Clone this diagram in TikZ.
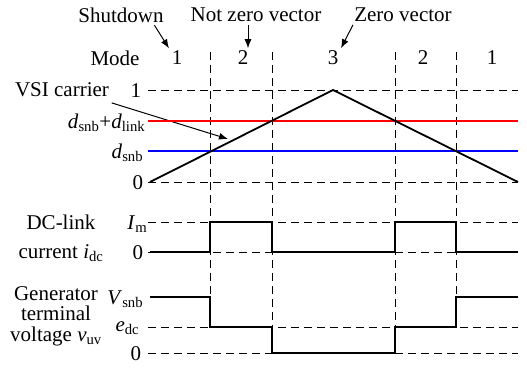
\documentclass[tikz,border=0pt]{standalone}
\usepackage{fontspec}
\setmainfont{Liberation Serif}
\usetikzlibrary{arrows.meta}
\definecolor{cred}{HTML}{FF0000}
\definecolor{cblue}{HTML}{0000FF}
\newcommand{\sym}[2]{\textit{#1}\textsubscript{#2}}
\tikzset{
  every picture/.style={font=\fontsize{21}{22}\selectfont, line width=1.6pt},
  wave/.style={draw=black, line width=1.8pt},
  grid/.style={draw=black, line width=1pt, dash pattern=on 8pt off 5pt},
  lbl/.style={inner sep=2pt},
  lvl/.style={anchor=base east, inner sep=1pt},
  pointer/.style={-{Latex[length=9pt, width=7pt]}, line width=1pt},
}

\begin{document}
\begin{tikzpicture}[x=1pt, y=-1pt]
  \useasboundingbox (0,0) rectangle (527,367);
  \node[lbl] (shut) at (121,15) {Shutdown};
  \node[lbl] (nzv) at (256,15) {Not zero vector};
  \node[lbl] (zv) at (403,15) {Zero vector};
  \node[lbl] (mode) at (115,58) {Mode};
  \node[lbl] (m1) at (177,58) {1};
  \node[lbl] (m2) at (243,58) {2};
  \node[lbl] (m3) at (333,58) {3};
  \node[lbl] (m2b) at (423,58) {2};
  \node[lbl] (m1b) at (492,58) {1};
  \node[lbl] (vsi) at (62,90) {VSI carrier};
  \node[lvl] (y1) at (143,97) {1};
  \node[lvl] (ysum) at (147,128) {\sym{d}{snb}+\sym{d}{link}};
  \node[lvl] (ysnb) at (145,158) {\sym{d}{snb}};
  \node[lvl] (y0) at (145,189) {0};
  \node[lbl, align=center, font=\fontsize{21}{29}\selectfont] (idc) at (61,238) {DC-link\\current \sym{i}{dc}};
  \node[lvl] (yim) at (149,229) {\sym{I}{m}};
  \node[lvl] (yi0) at (145,259) {0};
  \node[inner sep=0.5pt, align=center, font=\fontsize{21}{20.5}\selectfont] (vuv) at (56,316) {Generator\\terminal\\voltage \sym{v}{uv}};
  \node[lvl] (yvs) at (145,304) {\sym{V}{snb}};
  \node[lvl] (yed) at (141,331) {\sym{e}{dc}};
  \node[lvl] (yv0) at (143,360) {0};
  \coordinate (carr) at (228,139);
  \draw[pointer] ([xshift=-12pt]shut.south east) -- (m1.north west);
  \draw[pointer] ([xshift=-8pt]nzv.south) -- ([xshift=5pt]m2.north);
  \draw[pointer] ([xshift=-50pt]zv.south) -- (m3.north east);
  \draw[pointer] ([yshift=-3pt]vsi.south east) -- (carr);
  \foreach \x in {210,272,395,456}
    \draw[grid] (\x,52) -- (\x,327);
  \foreach \y in {90,182,222,252,327,353}
    \draw[grid] (148,\y) -- (518,\y);
  \draw[cred, line width=1.8pt] (148,121) -- (518,121);
  \draw[cblue, line width=1.8pt] (148,151) -- (518,151);
  \draw[wave] (150,182) -- (333,90) -- (518,182);
  \draw[wave] (150,252) -- (210,252) -- (210,222) -- (272,222) -- (272,252) -- (395,252) -- (395,222) -- (456,222) -- (456,252) -- (518,252);
  \draw[wave] (150,297) -- (210,297) -- (210,327) -- (272,327) -- (272,353) -- (395,353) -- (395,327) -- (456,327) -- (456,297) -- (518,297);
\end{tikzpicture}
\end{document}
